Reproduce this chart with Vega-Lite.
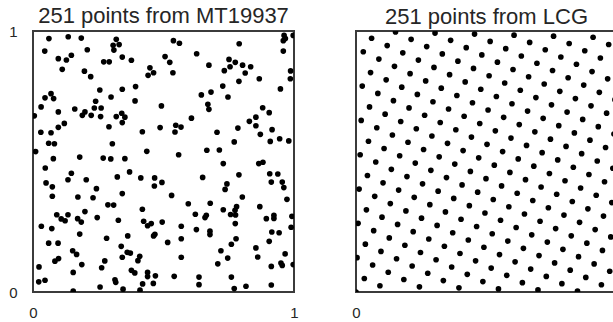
{
"$schema":"https://vega.github.io/schema/vega-lite/v6.json",
"padding":{"left":7,"top":4,"right":0,"bottom":0},
"background":"white",
"spacing":62,
"bounds":"flush",
"config":{
 "view":{"stroke":"#3b3b3b","strokeWidth":2},
 "font":"Liberation Sans",
 "title":{"fontSize":22,"fontWeight":"normal","color":"#262626","font":"Liberation Sans","offset":2,"frame":"group"},
 "axis":{"grid":false,"domain":false,"ticks":false,"tickSize":0,"labelFontSize":15,"labelColor":"#262626","labelFont":"Liberation Sans","title":null,"labelFlush":false}
},
"datasets":{
"mt":[
{"x":0.061,"y":0.971},{"x":0.135,"y":0.978},{"x":0.185,"y":0.973},{"x":0.319,"y":0.968},{"x":0.307,"y":0.945},{"x":0.330,"y":0.948},{"x":0.310,"y":0.927},{"x":0.045,"y":0.923},{"x":0.208,"y":0.928},{"x":0.097,"y":0.894},{"x":0.128,"y":0.889},{"x":0.147,"y":0.907},{"x":0.271,"y":0.882},{"x":0.292,"y":0.882},{"x":0.112,"y":0.853},{"x":0.197,"y":0.846},{"x":0.221,"y":0.825},{"x":0.256,"y":0.774},{"x":0.069,"y":0.760},{"x":0.046,"y":0.744},{"x":0.079,"y":0.741},{"x":0.240,"y":0.731},{"x":0.299,"y":0.747},{"x":0.031,"y":0.709},{"x":0.261,"y":0.705},{"x":0.235,"y":0.705},{"x":0.160,"y":0.701},{"x":0.097,"y":0.690},{"x":0.199,"y":0.690},{"x":0.189,"y":0.677},{"x":0.223,"y":0.677},{"x":0.259,"y":0.672},{"x":0.005,"y":0.675},{"x":0.319,"y":0.672},
{"x":0.538,"y":0.963},{"x":0.561,"y":0.953},{"x":0.342,"y":0.900},{"x":0.377,"y":0.888},{"x":0.506,"y":0.902},{"x":0.524,"y":0.880},{"x":0.627,"y":0.913},{"x":0.674,"y":0.869},{"x":0.448,"y":0.859},{"x":0.462,"y":0.840},{"x":0.441,"y":0.830},{"x":0.536,"y":0.840},{"x":0.342,"y":0.777},{"x":0.393,"y":0.787},{"x":0.391,"y":0.732},{"x":0.492,"y":0.713},{"x":0.645,"y":0.755},{"x":0.670,"y":0.719},{"x":0.674,"y":0.700},{"x":0.340,"y":0.685},{"x":0.352,"y":0.670},{"x":0.607,"y":0.666},
{"x":0.790,"y":0.951},{"x":0.962,"y":0.983},{"x":0.967,"y":0.971},{"x":0.959,"y":0.963},{"x":0.997,"y":0.983},{"x":0.959,"y":0.923},{"x":0.751,"y":0.891},{"x":0.775,"y":0.880},{"x":0.755,"y":0.863},{"x":0.733,"y":0.848},{"x":0.803,"y":0.869},{"x":0.834,"y":0.863},{"x":0.813,"y":0.839},{"x":0.867,"y":0.817},{"x":0.987,"y":0.847},{"x":0.986,"y":0.817},{"x":0.789,"y":0.807},{"x":0.727,"y":0.789},{"x":0.682,"y":0.766},{"x":0.948,"y":0.778},{"x":0.747,"y":0.747},{"x":0.880,"y":0.706},{"x":0.905,"y":0.687},{"x":0.854,"y":0.670},
{"x":0.120,"y":0.646},{"x":0.097,"y":0.631},{"x":0.030,"y":0.612},{"x":0.069,"y":0.610},{"x":0.291,"y":0.633},{"x":0.060,"y":0.570},{"x":0.082,"y":0.568},{"x":0.304,"y":0.568},{"x":0.010,"y":0.538},{"x":0.078,"y":0.511},{"x":0.179,"y":0.517},{"x":0.269,"y":0.513},{"x":0.298,"y":0.510},{"x":0.047,"y":0.475},{"x":0.147,"y":0.455},{"x":0.134,"y":0.430},{"x":0.204,"y":0.430},{"x":0.323,"y":0.441},{"x":0.050,"y":0.418},{"x":0.074,"y":0.403},{"x":0.243,"y":0.396},{"x":0.074,"y":0.367},{"x":0.172,"y":0.364},{"x":0.230,"y":0.361},{"x":0.287,"y":0.334},{"x":0.309,"y":0.333},
{"x":0.342,"y":0.649},{"x":0.419,"y":0.614},{"x":0.487,"y":0.630},{"x":0.547,"y":0.639},{"x":0.567,"y":0.632},{"x":0.544,"y":0.613},{"x":0.436,"y":0.539},{"x":0.558,"y":0.526},{"x":0.666,"y":0.543},{"x":0.352,"y":0.511},{"x":0.370,"y":0.460},{"x":0.413,"y":0.437},{"x":0.466,"y":0.437},{"x":0.465,"y":0.406},{"x":0.494,"y":0.420},{"x":0.650,"y":0.439},{"x":0.342,"y":0.377},{"x":0.531,"y":0.370},{"x":0.595,"y":0.338},
{"x":0.829,"y":0.654},{"x":0.854,"y":0.637},{"x":0.785,"y":0.628},{"x":0.705,"y":0.612},{"x":0.871,"y":0.604},{"x":0.916,"y":0.622},{"x":0.909,"y":0.577},{"x":0.945,"y":0.587},{"x":0.980,"y":0.579},{"x":0.771,"y":0.575},{"x":0.714,"y":0.544},{"x":0.729,"y":0.492},{"x":0.865,"y":0.492},{"x":0.881,"y":0.497},{"x":0.789,"y":0.449},{"x":0.907,"y":0.453},{"x":0.938,"y":0.452},{"x":0.913,"y":0.421},{"x":0.955,"y":0.421},{"x":0.961,"y":0.400},{"x":0.743,"y":0.414},{"x":0.736,"y":0.393},{"x":0.802,"y":0.364},{"x":0.973,"y":0.355},{"x":0.679,"y":0.340},{"x":0.780,"y":0.327},{"x":0.869,"y":0.327},
{"x":0.199,"y":0.308},{"x":0.091,"y":0.296},{"x":0.134,"y":0.296},{"x":0.108,"y":0.280},{"x":0.123,"y":0.273},{"x":0.171,"y":0.281},{"x":0.185,"y":0.268},{"x":0.246,"y":0.285},{"x":0.327,"y":0.275},{"x":0.032,"y":0.252},{"x":0.072,"y":0.243},{"x":0.179,"y":0.222},{"x":0.282,"y":0.206},{"x":0.060,"y":0.187},{"x":0.096,"y":0.187},{"x":0.152,"y":0.158},{"x":0.167,"y":0.144},{"x":0.084,"y":0.118},{"x":0.098,"y":0.128},{"x":0.275,"y":0.119},{"x":0.187,"y":0.105},{"x":0.023,"y":0.096},{"x":0.263,"y":0.093},{"x":0.154,"y":0.075},{"x":0.022,"y":0.039},{"x":0.046,"y":0.045},{"x":0.314,"y":0.047},{"x":0.317,"y":0.037},{"x":0.257,"y":0.019},{"x":0.154,"y":0.004},
{"x":0.419,"y":0.317},{"x":0.424,"y":0.271},{"x":0.439,"y":0.254},{"x":0.453,"y":0.262},{"x":0.495,"y":0.268},{"x":0.568,"y":0.252},{"x":0.622,"y":0.298},{"x":0.659,"y":0.285},{"x":0.664,"y":0.294},{"x":0.363,"y":0.215},{"x":0.462,"y":0.215},{"x":0.467,"y":0.221},{"x":0.568,"y":0.204},{"x":0.626,"y":0.239},{"x":0.516,"y":0.190},{"x":0.338,"y":0.175},{"x":0.361,"y":0.152},{"x":0.373,"y":0.149},{"x":0.342,"y":0.133},{"x":0.409,"y":0.137},{"x":0.402,"y":0.120},{"x":0.568,"y":0.133},{"x":0.377,"y":0.083},{"x":0.390,"y":0.073},{"x":0.439,"y":0.075},{"x":0.439,"y":0.059},{"x":0.469,"y":0.062},{"x":0.541,"y":0.060},{"x":0.636,"y":0.057},{"x":0.420,"y":0.031},{"x":0.461,"y":0.033},{"x":0.636,"y":0.028},{"x":0.345,"y":0.011},{"x":0.410,"y":0.007},
{"x":0.729,"y":0.315},{"x":0.774,"y":0.313},{"x":0.757,"y":0.297},{"x":0.776,"y":0.295},{"x":0.894,"y":0.281},{"x":0.923,"y":0.294},{"x":0.923,"y":0.282},{"x":0.992,"y":0.290},{"x":0.989,"y":0.248},{"x":0.775,"y":0.262},{"x":0.678,"y":0.233},{"x":0.678,"y":0.220},{"x":0.915,"y":0.230},{"x":0.943,"y":0.227},{"x":0.905,"y":0.194},{"x":0.778,"y":0.204},{"x":0.760,"y":0.183},{"x":0.854,"y":0.169},{"x":0.720,"y":0.158},{"x":0.861,"y":0.134},{"x":0.966,"y":0.146},{"x":0.746,"y":0.130},{"x":0.708,"y":0.108},{"x":0.950,"y":0.111},{"x":0.955,"y":0.102},{"x":0.913,"y":0.098},{"x":0.997,"y":0.105},{"x":0.760,"y":0.057},{"x":0.771,"y":0.013},{"x":0.816,"y":0.022},{"x":0.913,"y":0.027}
],
"lcg":[
{"s":0,"n":0},{"s":1,"n":33},{"s":2,"n":66},{"s":3,"n":99},{"s":4,"n":132},{"s":5,"n":165},{"s":6,"n":198},{"s":7,"n":231},{"s":8,"n":13},{"s":9,"n":46},
{"s":10,"n":79},{"s":11,"n":112},{"s":12,"n":145},{"s":13,"n":178},{"s":14,"n":211},{"s":15,"n":244},{"s":16,"n":26},{"s":17,"n":59},{"s":18,"n":92},{"s":19,"n":125},
{"s":20,"n":158},{"s":21,"n":191},{"s":22,"n":224},{"s":23,"n":6},{"s":24,"n":39},{"s":25,"n":72},{"s":26,"n":105},{"s":27,"n":138},{"s":28,"n":171},{"s":29,"n":204},
{"s":30,"n":237},{"s":31,"n":19},{"s":32,"n":52},{"s":33,"n":85},{"s":34,"n":118},{"s":35,"n":151},{"s":36,"n":184},{"s":37,"n":217},{"s":38,"n":250},{"s":39,"n":32},
{"s":40,"n":65},{"s":41,"n":98},{"s":42,"n":131},{"s":43,"n":164},{"s":44,"n":197},{"s":45,"n":230},{"s":46,"n":12},{"s":47,"n":45},{"s":48,"n":78},{"s":49,"n":111},
{"s":50,"n":144},{"s":51,"n":177},{"s":52,"n":210},{"s":53,"n":243},{"s":54,"n":25},{"s":55,"n":58},{"s":56,"n":91},{"s":57,"n":124},{"s":58,"n":157},{"s":59,"n":190},
{"s":60,"n":223},{"s":61,"n":5},{"s":62,"n":38},{"s":63,"n":71},{"s":64,"n":104},{"s":65,"n":137},{"s":66,"n":170},{"s":67,"n":203},{"s":68,"n":236},{"s":69,"n":18},
{"s":70,"n":51},{"s":71,"n":84},{"s":72,"n":117},{"s":73,"n":150},{"s":74,"n":183},{"s":75,"n":216},{"s":76,"n":249},{"s":77,"n":31},{"s":78,"n":64},{"s":79,"n":97},
{"s":80,"n":130},{"s":81,"n":163},{"s":82,"n":196},{"s":83,"n":229},{"s":84,"n":11},{"s":85,"n":44},{"s":86,"n":77},{"s":87,"n":110},{"s":88,"n":143},{"s":89,"n":176},
{"s":90,"n":209},{"s":91,"n":242},{"s":92,"n":24},{"s":93,"n":57},{"s":94,"n":90},{"s":95,"n":123},{"s":96,"n":156},{"s":97,"n":189},{"s":98,"n":222},{"s":99,"n":4},
{"s":100,"n":37},{"s":101,"n":70},{"s":102,"n":103},{"s":103,"n":136},{"s":104,"n":169},{"s":105,"n":202},{"s":106,"n":235},{"s":107,"n":17},{"s":108,"n":50},{"s":109,"n":83},
{"s":110,"n":116},{"s":111,"n":149},{"s":112,"n":182},{"s":113,"n":215},{"s":114,"n":248},{"s":115,"n":30},{"s":116,"n":63},{"s":117,"n":96},{"s":118,"n":129},{"s":119,"n":162},
{"s":120,"n":195},{"s":121,"n":228},{"s":122,"n":10},{"s":123,"n":43},{"s":124,"n":76},{"s":125,"n":109},{"s":126,"n":142},{"s":127,"n":175},{"s":128,"n":208},{"s":129,"n":241},
{"s":130,"n":23},{"s":131,"n":56},{"s":132,"n":89},{"s":133,"n":122},{"s":134,"n":155},{"s":135,"n":188},{"s":136,"n":221},{"s":137,"n":3},{"s":138,"n":36},{"s":139,"n":69},
{"s":140,"n":102},{"s":141,"n":135},{"s":142,"n":168},{"s":143,"n":201},{"s":144,"n":234},{"s":145,"n":16},{"s":146,"n":49},{"s":147,"n":82},{"s":148,"n":115},{"s":149,"n":148},
{"s":150,"n":181},{"s":151,"n":214},{"s":152,"n":247},{"s":153,"n":29},{"s":154,"n":62},{"s":155,"n":95},{"s":156,"n":128},{"s":157,"n":161},{"s":158,"n":194},{"s":159,"n":227},
{"s":160,"n":9},{"s":161,"n":42},{"s":162,"n":75},{"s":163,"n":108},{"s":164,"n":141},{"s":165,"n":174},{"s":166,"n":207},{"s":167,"n":240},{"s":168,"n":22},{"s":169,"n":55},
{"s":170,"n":88},{"s":171,"n":121},{"s":172,"n":154},{"s":173,"n":187},{"s":174,"n":220},{"s":175,"n":2},{"s":176,"n":35},{"s":177,"n":68},{"s":178,"n":101},{"s":179,"n":134},
{"s":180,"n":167},{"s":181,"n":200},{"s":182,"n":233},{"s":183,"n":15},{"s":184,"n":48},{"s":185,"n":81},{"s":186,"n":114},{"s":187,"n":147},{"s":188,"n":180},{"s":189,"n":213},
{"s":190,"n":246},{"s":191,"n":28},{"s":192,"n":61},{"s":193,"n":94},{"s":194,"n":127},{"s":195,"n":160},{"s":196,"n":193},{"s":197,"n":226},{"s":198,"n":8},{"s":199,"n":41},
{"s":200,"n":74},{"s":201,"n":107},{"s":202,"n":140},{"s":203,"n":173},{"s":204,"n":206},{"s":205,"n":239},{"s":206,"n":21},{"s":207,"n":54},{"s":208,"n":87},{"s":209,"n":120},
{"s":210,"n":153},{"s":211,"n":186},{"s":212,"n":219},{"s":213,"n":1},{"s":214,"n":34},{"s":215,"n":67},{"s":216,"n":100},{"s":217,"n":133},{"s":218,"n":166},{"s":219,"n":199},
{"s":220,"n":232},{"s":221,"n":14},{"s":222,"n":47},{"s":223,"n":80},{"s":224,"n":113},{"s":225,"n":146},{"s":226,"n":179},{"s":227,"n":212},{"s":228,"n":245},{"s":229,"n":27},
{"s":230,"n":60},{"s":231,"n":93},{"s":232,"n":126},{"s":233,"n":159},{"s":234,"n":192},{"s":235,"n":225},{"s":236,"n":7},{"s":237,"n":40},{"s":238,"n":73},{"s":239,"n":106},
{"s":240,"n":139},{"s":241,"n":172},{"s":242,"n":205},{"s":243,"n":238},{"s":244,"n":20},{"s":245,"n":53},{"s":246,"n":86},{"s":247,"n":119},{"s":248,"n":152},{"s":249,"n":185},
{"s":250,"n":218}
]
},
"hconcat":[
{
 "width":261,"height":261,
 "title":{"text":"251 points from MT19937","dy":6},
 "data":{"name":"mt"},
 "mark":{"type":"circle","size":32,"color":"#000000","opacity":1,"clip":true},
 "encoding":{
  "x":{"field":"x","type":"quantitative","scale":{"domain":[0,1],"nice":false,"zero":false},"axis":{"values":[0,1],"format":"d","labelPadding":13}},
  "y":{"field":"y","type":"quantitative","scale":{"domain":[0,1],"nice":false,"zero":false},"axis":{"values":[0,1],"format":"d","labelPadding":16}}
 }
},
{
 "width":261,"height":261,
 "title":"251 points from LCG",
 "data":{"name":"lcg"},
 "mark":{"type":"circle","size":32,"color":"#000000","opacity":1,"clip":true},
 "encoding":{
  "x":{"field":"s","type":"quantitative","scale":{"domain":[0,251],"nice":false,"zero":false},"axis":{"values":[0,251],"labelExpr":"datum.value == 0 ? '0' : '1'","labelPadding":13}},
  "y":{"field":"n","type":"quantitative","scale":{"domain":[0,251],"nice":false,"zero":false},"axis":null}
 }
}
]
}
